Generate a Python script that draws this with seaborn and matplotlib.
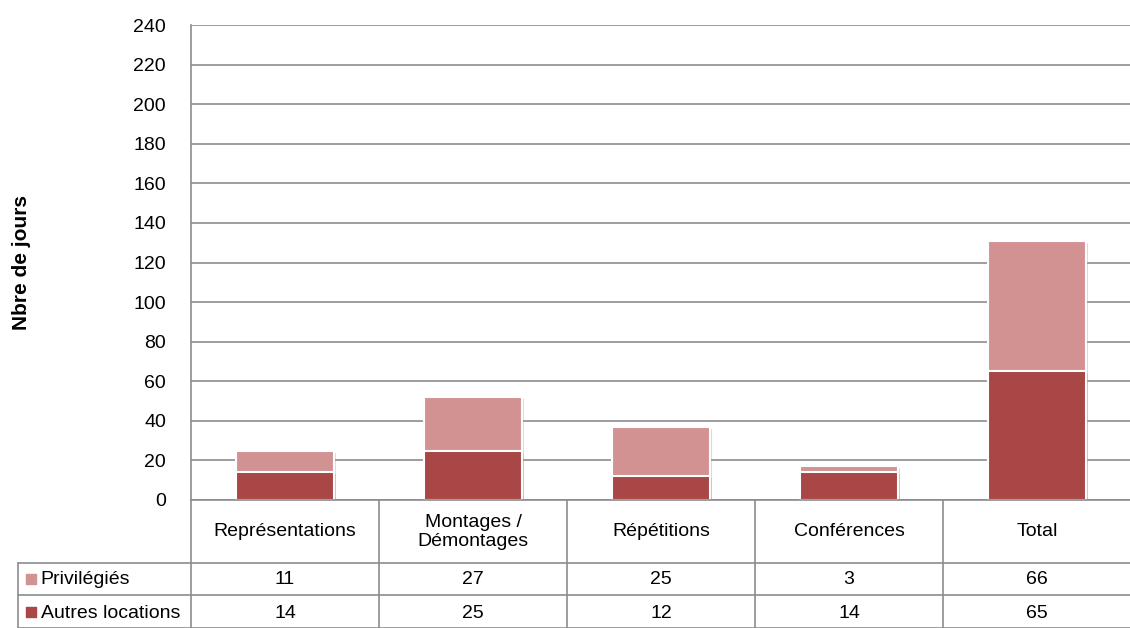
import matplotlib
matplotlib.use("Agg")
import matplotlib.pyplot as plt
import matplotlib.patheffects as pe
import seaborn as sns

sns.set_theme(style="white")
plt.rcParams['font.family'] = ['Liberation Sans', 'DejaVu Sans']
plt.rcParams['text.color'] = 'black'
plt.rcParams['ytick.color'] = 'black'

categories = ["Représentations", "Montages /\nDémontages", "Répétitions", "Conférences", "Total"]
privilegies = [11, 27, 25, 3, 66]
autres = [14, 25, 12, 14, 65]
series_names = ["Privilégiés", "Autres locations"]
yticks = list(range(0, 241, 20))

c_light = "#d39292"
c_dark = "#a94646"
grid_c = "#8c8c8c"
fs = 14

totals = [p + a for p, a in zip(privilegies, autres)]

W, H = 1130, 628
fig = plt.figure(figsize=(W / 100, H / 100), dpi=100)
ax = fig.add_axes([191 / W, 128 / H, 940 / W, 475 / H])

shadow = [pe.SimplePatchShadow(offset=(1.5, -1.5), shadow_rgbFace="#999999", alpha=0.35), pe.Normal()]
sns.barplot(x=categories, y=totals, color=c_light, width=0.52, saturation=1,
            edgecolor="white", linewidth=1.5, ax=ax)
sns.barplot(x=categories, y=autres, color=c_dark, width=0.52, saturation=1,
            edgecolor="white", linewidth=1.5, ax=ax)
for p in ax.patches:
    p.set_path_effects(shadow)

ax.set_xlim(-0.5, 4.5)
ax.set_ylim(0, 240)
ax.set_yticks(yticks)
ax.set_yticklabels([str(v) for v in yticks], fontsize=fs)
ax.yaxis.grid(True, color=grid_c, linewidth=1.2)
ax.set_axisbelow(True)
ax.tick_params(axis="y", length=0, pad=18)
ax.set_xticks([])
ax.set_xlabel("")
for s in ["top", "right", "bottom"]:
    ax.spines[s].set_visible(False)
ax.spines["left"].set_color(grid_c)
ax.spines["left"].set_linewidth(1.2)
fig.text(22 / W, 1 - 262 / H, "Nbre de jours", rotation=90, ha="center", va="center",
         fontsize=15, fontweight="bold")

# data table below the plot
tb = fig.add_axes([191 / W, 0, 940 / W, 128 / H])
tb.set_xlim(-0.5, 4.5)
tb.set_ylim(0, 128)
tb.axis("off")
left_x = -0.5 - (191 - 18) / 188
lw = 1.2
# horizontal lines
tb.plot([-0.5, 4.6], [128, 128], color=grid_c, lw=lw, clip_on=False)
for yy in [65, 33]:
    tb.plot([left_x, 4.6], [yy, yy], color=grid_c, lw=lw, clip_on=False)
tb.plot([left_x, 4.6], [0.5, 0.5], color=grid_c, lw=lw, clip_on=False)
# vertical lines
for i in range(5):
    tb.plot([i - 0.5, i - 0.5], [0, 128], color=grid_c, lw=lw, clip_on=False)
tb.plot([left_x, left_x], [0, 65], color=grid_c, lw=lw, clip_on=False)

for i, c in enumerate(categories):
    tb.text(i, 96, c, ha="center", va="center", fontsize=fs, linespacing=1.15)
rows = [(series_names[0], privilegies, c_light, 48), (series_names[1], autres, c_dark, 15)]
for name, vals, col, yy in rows:
    tb.scatter([left_x + 0.07], [yy + 1], marker="s", s=55, color=col, clip_on=False)
    tb.text(left_x + 0.12, yy, name, ha="left", va="center", fontsize=fs)
    for i, v in enumerate(vals):
        tb.text(i, yy, str(v), ha="center", va="center", fontsize=fs)

fig.savefig("out.png", dpi=100)
